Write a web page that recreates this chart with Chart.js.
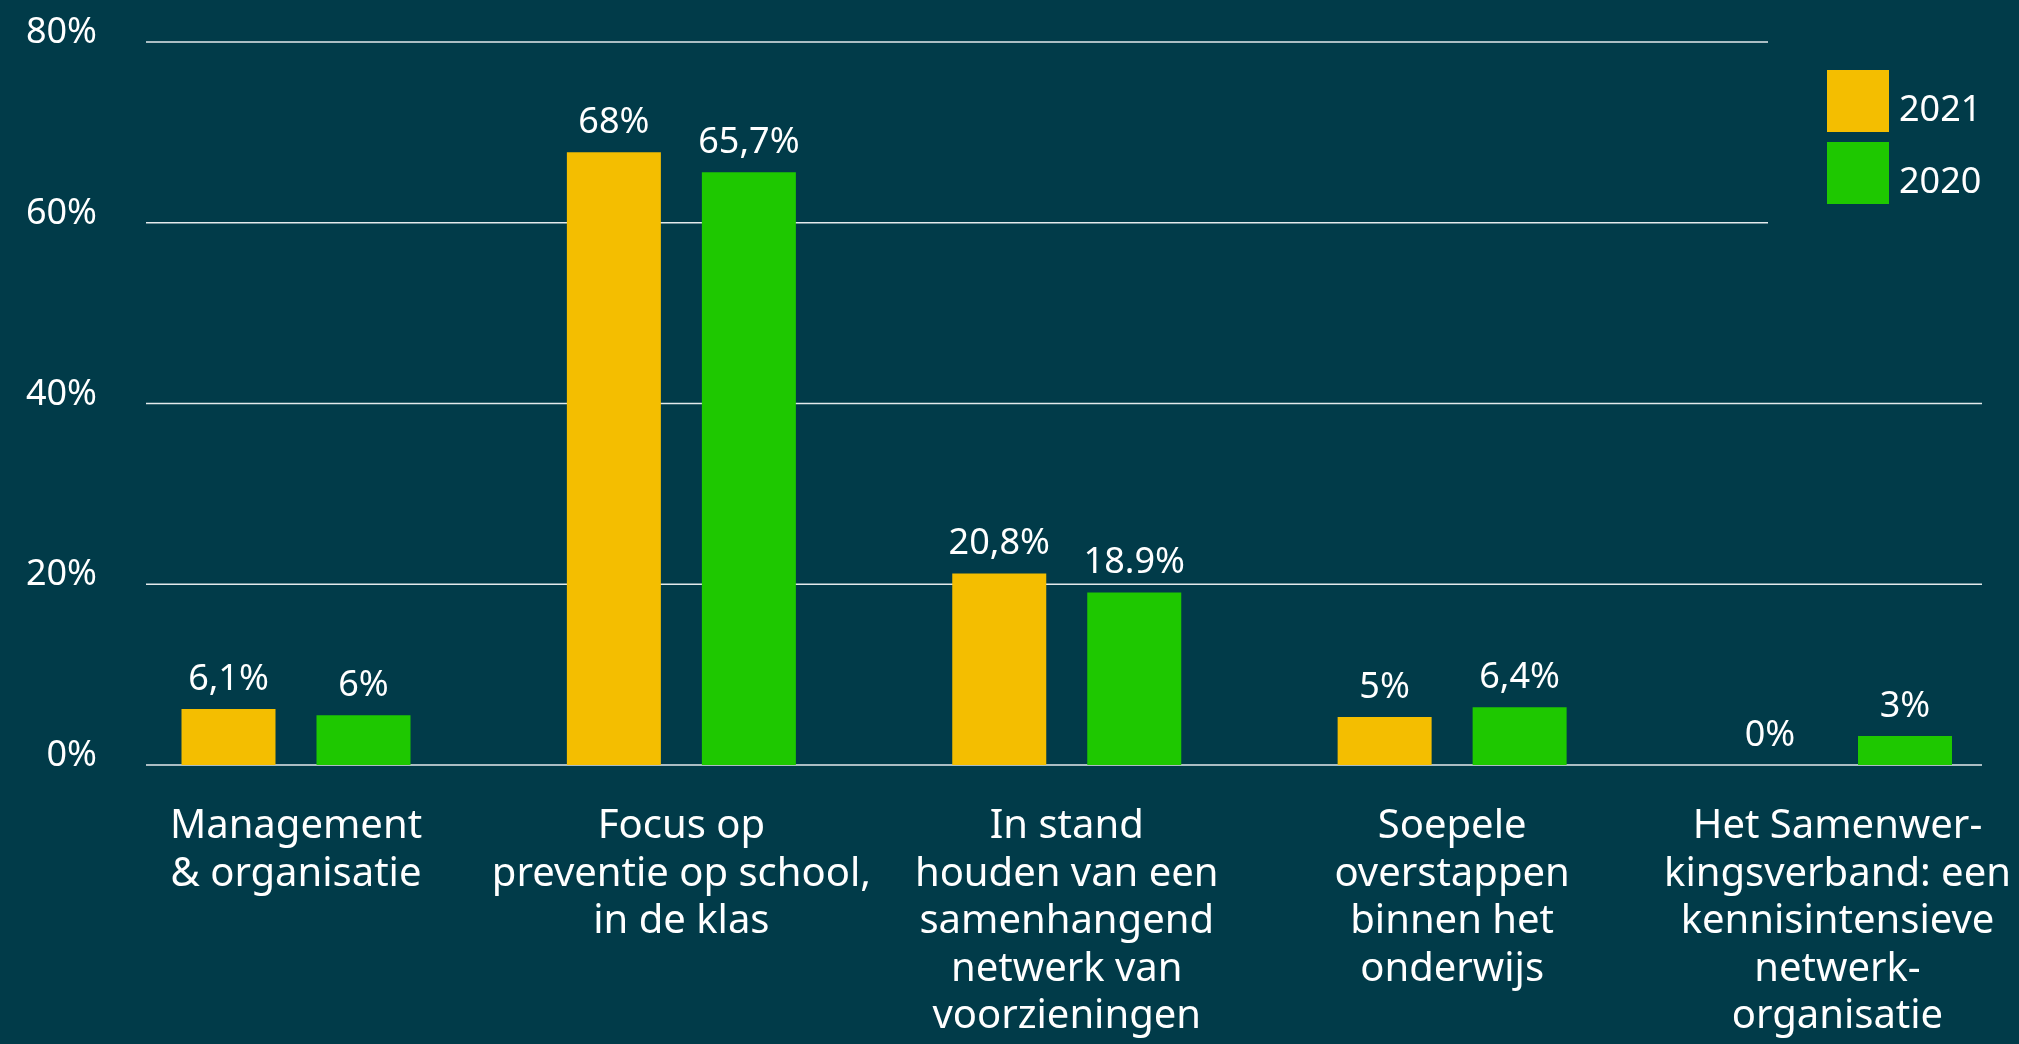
<!DOCTYPE html>
<html>
<head>
<meta charset="utf-8">
<script src="https://cdn.jsdelivr.net/npm/chart.js@4.4.1/dist/chart.umd.min.js"></script>
<style>
  html, body { margin: 0; padding: 0; background: #013b49; }
  #wrap { width: 2019px; height: 1044px; position: relative; }
</style>
</head>
<body>
<div id="wrap"><canvas id="chart"></canvas></div>
<script>
const categories = [
  ["Management", "& organisatie"],
  ["Focus op", "preventie op school,", "in de klas"],
  ["In stand", "houden van een", "samenhangend", "netwerk van", "voorzieningen"],
  ["Soepele", "overstappen", "binnen het", "onderwijs"],
  ["Het Samenwer-", "kingsverband: een", "kennisintensieve", "netwerk-", "organisatie"]
];
const values2021 = [6.2, 67.8, 21.2, 5.3, 0];
const values2020 = [5.5, 65.6, 19.1, 6.4, 3.2];
const labels2021 = ["6,1%", "68%", "20,8%", "5%", "0%"];
const labels2020 = ["6%", "65,7%", "18.9%", "6,4%", "3%"];
const yTicks = [0, 20, 40, 60, 80];

const FONT = "'Noto Sans', sans-serif";
Chart.defaults.font.family = FONT;
Chart.defaults.color = "#ffffff";

// gridlines + y labels, drawn from the y scale
const gridPlugin = {
  id: "gridPlugin",
  beforeDatasetsDraw(chart) {
    const ctx = chart.ctx;
    const y = chart.scales.y;
    ctx.save();
    ctx.strokeStyle = "#e4eaec";
    ctx.lineWidth = 1.5;
    ctx.fillStyle = "#ffffff";
    ctx.font = "36px " + FONT;
    ctx.textAlign = "right";
    ctx.textBaseline = "alphabetic";
    yTicks.forEach(v => {
      const py = y.getPixelForValue(v);
      ctx.beginPath();
      ctx.moveTo(146, py);
      ctx.lineTo(v >= 60 ? 1768 : 1982, py);
      ctx.stroke();
      ctx.fillText(v + "%", 97, py + 1);
    });
    ctx.restore();
  }
};

// value labels above bars + legend
const labelPlugin = {
  id: "labelPlugin",
  afterDatasetsDraw(chart) {
    const ctx = chart.ctx;
    ctx.save();
    ctx.font = "36px " + FONT;
    ctx.fillStyle = "#ffffff";
    ctx.textAlign = "center";
    ctx.textBaseline = "alphabetic";
    chart.data.datasets.forEach((ds, i) => {
      chart.getDatasetMeta(i).data.forEach((bar, j) => {
        ctx.fillText(ds.valueLabels[j], bar.x, bar.y - 19);
      });
    });
    // legend
    ctx.textAlign = "left";
    chart.data.datasets.forEach((ds, i) => {
      const top = 70 + i * 72;
      ctx.fillStyle = ds.backgroundColor;
      ctx.fillRect(1827, top, 62, 62);
      ctx.fillStyle = "#ffffff";
      ctx.fillText(ds.label, 1899, top + 51);
    });
    ctx.restore();
  }
};

new Chart(document.getElementById("chart"), {
  type: "bar",
  data: {
    labels: categories,
    datasets: [
      { label: "2021", data: values2021, valueLabels: labels2021, backgroundColor: "#f4be00" },
      { label: "2020", data: values2020, valueLabels: labels2020, backgroundColor: "#1ec800" }
    ]
  },
  options: {
    responsive: true,
    maintainAspectRatio: false,
    animation: false,
    categoryPercentage: 0.7006,
    barPercentage: 0.6963,
    datasets: { bar: { clip: false } },
    layout: { padding: { left: 296, right: 181.5, top: 42, bottom: 0 } },
    plugins: {
      legend: { display: false },
      tooltip: { enabled: false }
    },
    scales: {
      x: {
        offset: false,
        grid: { display: false, drawTicks: true, tickLength: 38 },
        border: { display: false },
        ticks: {
          color: "#ffffff",
          font: { size: 40, lineHeight: 1.1875 },
          padding: 0,
          maxRotation: 0,
          autoSkip: false
        },
        afterFit(scale) { scale.height = 279; }
      },
      y: {
        display: false,
        min: 0,
        max: 80
      }
    }
  },
  plugins: [gridPlugin, labelPlugin]
});
</script>
</body>
</html>
